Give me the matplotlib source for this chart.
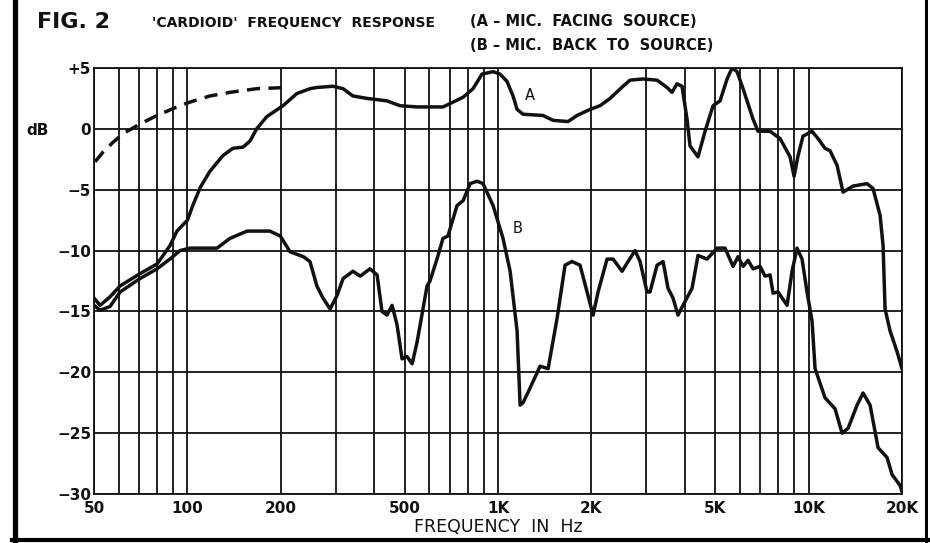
import matplotlib.pyplot as plt
from matplotlib.lines import Line2D
from matplotlib.ticker import NullLocator

# curve A - mic facing source
a_freq = [50, 52.3, 56.3, 60.7, 70.3, 79.8, 87.8, 92.5, 100, 104, 110, 118, 130, 140, 151, 159, 167,
          180, 203, 225, 248, 261, 294, 317, 341, 379, 439, 484, 549, 665, 717, 772, 831, 888, 964,
          1015, 1069, 1118, 1152, 1204, 1396, 1504, 1681, 1797, 1979, 2131, 2295, 2527, 2662, 2931,
          3253, 3502, 3634, 3771, 3914, 4062, 4153, 4406, 4643, 4926, 5189, 5467, 5672, 5886, 6154,
          6628, 6878, 7518, 8099, 8722, 8984, 9254, 9600, 10264, 10731, 11305, 11732, 12356, 12918,
          13910, 15433, 16133, 17000, 17382, 17640, 18306, 19280, 20000]
a_db = [-13.9, -14.5, -13.8, -12.9, -11.9, -11.1, -9.6, -8.4, -7.5, -6.3, -4.8, -3.5, -2.2, -1.6, -1.5,
        -1.0, 0.0, 1.0, 1.9, 2.9, 3.3, 3.4, 3.5, 3.3, 2.7, 2.5, 2.3, 1.9, 1.8, 1.8, 2.2, 2.6, 3.3, 4.5,
        4.7, 4.5, 3.9, 2.7, 1.6, 1.2, 1.1, 0.7, 0.6, 1.1, 1.6, 1.9, 2.5, 3.5, 4.0, 4.1, 4.0, 3.4, 3.0,
        3.7, 3.5, 0.8, -1.4, -2.3, -0.2, 1.9, 2.3, 4.1, 5.0, 4.7, 3.3, 0.8, -0.2, -0.2, -0.8, -2.3,
        -3.9, -2.2, -0.6, -0.2, -0.8, -1.6, -1.8, -3.0, -5.2, -4.7, -4.5, -4.9, -7.1, -9.6, -14.8,
        -16.6, -18.3, -19.7]

# curve B - mic back to source
b_freq = [50, 52.3, 56.3, 60.7, 70.3, 79.8, 87.8, 94.6, 101.9, 124.5, 137, 155.5, 184, 199, 214, 236,
          248, 261, 273, 288, 303, 317, 341, 360, 387, 408, 423, 439, 456, 473, 491, 509, 529, 549,
          591, 604, 636, 665, 690, 738, 772, 813, 856, 895, 964, 1038, 1094, 1152, 1178, 1204, 1268,
          1366, 1450, 1549, 1644, 1731, 1837, 1936, 2024, 2100, 2245, 2347, 2510, 2624, 2763, 2867,
          3020, 3087, 3253, 3401, 3528, 3661, 3799, 3942, 4216, 4406, 4712, 5074, 5386, 5715, 5930,
          6154, 6388, 6628, 6982, 7244, 7518, 7688, 7979, 8530, 8851, 9185, 9531, 9890, 10264, 10498,
          11305, 12175, 12823, 13410, 14333, 14985, 15786, 16749, 17901, 18577, 19715, 20000]
b_db = [-14.5, -14.9, -14.6, -13.4, -12.3, -11.5, -10.7, -10.0, -9.8, -9.8, -9.0, -8.4, -8.4, -8.8,
        -10.1, -10.5, -10.9, -12.9, -13.9, -14.8, -13.7, -12.3, -11.7, -12.1, -11.5, -12.0, -15.0,
        -15.3, -14.5, -16.1, -18.9, -18.7, -19.3, -17.5, -12.9, -12.5, -10.7, -9.0, -8.8, -6.3, -5.9,
        -4.5, -4.3, -4.5, -6.3, -9.0, -11.7, -16.6, -22.7, -22.5, -21.3, -19.5, -19.7, -15.6, -11.2,
        -10.9, -11.2, -13.4, -15.3, -13.4, -10.7, -10.7, -11.7, -10.9, -10.0, -10.9, -13.4, -13.4,
        -11.2, -10.9, -13.1, -13.9, -15.3, -14.5, -13.1, -10.4, -10.7, -9.8, -9.8, -11.3, -10.5,
        -11.3, -10.8, -11.5, -11.3, -12.1, -12.0, -13.5, -13.4, -14.5, -11.7, -9.8, -10.7, -13.4,
        -15.8, -19.7, -22.1, -23.0, -25.0, -24.6, -22.7, -21.7, -22.7, -26.2, -27.0, -28.4, -29.3,
        -29.8]

# dashed low-frequency curve
d_freq = [50.4, 53.5, 57.6, 62.0, 70.3, 79.8, 92.5, 101.9, 118, 137, 167, 209]
d_db = [-2.7, -1.9, -1.1, -0.4, 0.4, 1.1, 1.8, 2.2, 2.7, 3.0, 3.3, 3.4]

grid_freqs = [50, 60, 70, 80, 90, 100, 200, 300, 400, 500, 600, 700, 800, 900, 1000,
              2000, 3000, 4000, 5000, 6000, 7000, 8000, 9000, 10000, 20000]
xtick_vals = [50, 100, 200, 500, 1000, 2000, 5000, 10000, 20000]
xtick_labels = ['50', '100', '200', '500', '1K', '2K', '5K', '10K', '20K']
ytick_vals = [5, 0, -5, -10, -15, -20, -25, -30]
ytick_labels = ['+5', '0', '\u22125', '\u221210', '\u221215', '\u221220', '\u221225', '\u221230']

W, H = 930, 543
fig = plt.figure(figsize=(W / 100, H / 100), dpi=100)
ax = fig.add_axes([94 / W, 49 / H, 808 / W, 426 / H])

ink = '#111111'
ax.set_xscale('log')
ax.set_xlim(50, 20000)
ax.set_ylim(-30, 5)

for f in grid_freqs:
    ax.axvline(f, color=ink, lw=1.3, zorder=1)
for y in ytick_vals:
    ax.axhline(y, color=ink, lw=1.3, zorder=1)
for s in ax.spines.values():
    s.set_linewidth(1.3)
    s.set_color(ink)

ax.plot(a_freq, a_db, color=ink, lw=2.5, zorder=3, solid_joinstyle='round')
ax.plot(b_freq, b_db, color=ink, lw=2.5, zorder=3, solid_joinstyle='round')
ax.plot(d_freq, d_db, color=ink, lw=2.5, zorder=3, dashes=(3.8, 2.4))

ax.text(1268, 2.7, 'A', fontsize=10.5, ha='center', va='center', color=ink)
ax.text(1152, -8.2, 'B', fontsize=10.5, ha='center', va='center', color=ink)

ax.xaxis.set_minor_locator(NullLocator())
ax.yaxis.set_minor_locator(NullLocator())
ax.set_xticks(xtick_vals, xtick_labels)
ax.set_yticks(ytick_vals, ytick_labels)
ax.tick_params(length=0, labelsize=11, colors=ink)
ax.tick_params(axis='x', pad=5)
ax.tick_params(axis='y', pad=2)
for lab in ax.get_xticklabels() + ax.get_yticklabels():
    lab.set_fontweight('bold')

fig.text(38 / W, 1 - 130 / H, 'dB', fontsize=11, fontweight='bold', ha='center', va='center', color=ink)
fig.text(498 / W, 1 - 527 / H, 'FREQUENCY  IN  Hz', fontsize=12.5, ha='center', va='center', color=ink)

fig.text(37 / W, 1 - 22 / H, 'FIG. 2', fontsize=16, fontweight='bold', ha='left', va='center', color=ink)
fig.text(152 / W, 1 - 23 / H, "'CARDIOID'  FREQUENCY  RESPONSE", fontsize=10, fontweight='bold',
         ha='left', va='center', color=ink)
fig.text(470 / W, 1 - 22 / H, '(A \u2013 MIC.  FACING  SOURCE)', fontsize=10.5, fontweight='bold',
         ha='left', va='center', color=ink)
fig.text(470 / W, 1 - 46 / H, '(B \u2013 MIC.  BACK  TO  SOURCE)', fontsize=10.5, fontweight='bold',
         ha='left', va='center', color=ink)

# outer frame of the scanned figure
fig.add_artist(Line2D([14.5 / W, 14.5 / W], [0, 1], color='black', lw=3.8))
fig.add_artist(Line2D([926 / W, 926 / W], [0, 1], color='black', lw=2.2))
fig.add_artist(Line2D([12 / W, 928 / W], [1 - 539.5 / H, 1 - 539.5 / H], color='black', lw=3.0))

fig.savefig('out.png', dpi=100)
